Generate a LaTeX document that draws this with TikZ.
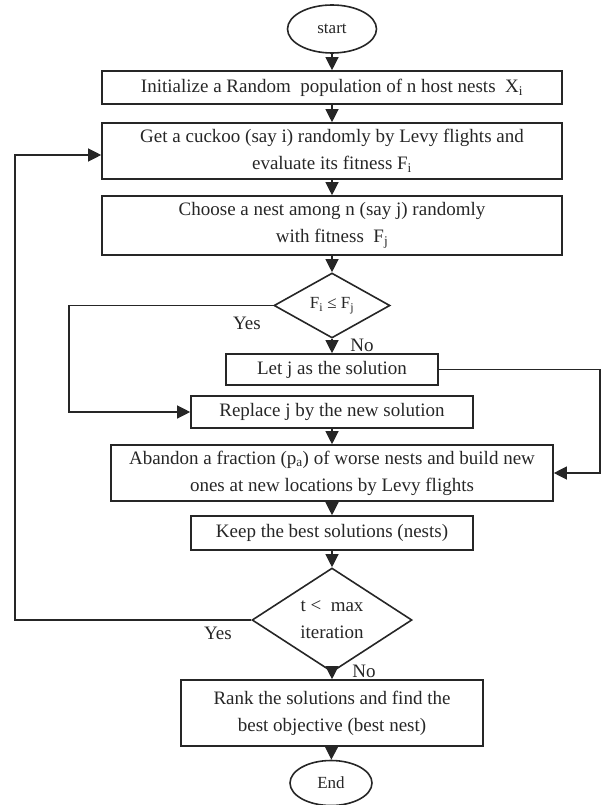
\documentclass[tikz,border=0pt]{standalone}
\usepackage{fontspec}
\setmainfont{Liberation Serif}
\usetikzlibrary{shapes.geometric,arrows.meta}

\begin{document}
\begin{tikzpicture}[x=1pt, y=-1pt, line width=1.2pt, draw=black!85,
		every node/.style={font=\fontsize{19}{27}\selectfont, text=black!85},
		box/.style={draw, rectangle, line width=1.6pt, align=center, inner sep=2pt},
		decision/.style={draw, diamond, line width=1.6pt, align=center, inner sep=0pt},
		terminal/.style={draw, ellipse, line width=1.6pt, inner sep=0pt,
			font=\fontsize{17}{20}\selectfont},
		flow/.style={-{Triangle[width=13pt,length=13pt]}}]
		\useasboundingbox (0,0) rectangle (601,805);

		\node[terminal, minimum width=89pt, minimum height=48pt] (start) at (332,29) {start};
		\node[box, minimum width=460pt, minimum height=33pt] (init) at (332,87.5)
			{Initialize a Random\ \ population of n host nests\ \ X\textsubscript{i}};
		\node[box, minimum width=460pt, minimum height=56pt] (cuckoo) at (332,151)
			{Get a cuckoo (say i) randomly by Levy flights and\\evaluate its fitness F\textsubscript{i}};
		\node[box, minimum width=460pt, minimum height=59pt] (choose) at (332,225.5)
			{Choose a nest among n (say j) randomly\\with fitness\ \ F\textsubscript{j}};
		\node[decision, aspect=2, minimum width=116pt, minimum height=65pt,
			font=\fontsize{17}{20}\selectfont] (fit) at (332,305.5)
			{F\textsubscript{i} ≤\ F\textsubscript{j}};
		\node[box, minimum width=212pt, minimum height=31pt] (letj) at (332,369.5)
			{Let j as the solution};
		\node[box, minimum width=282pt, minimum height=32pt] (replace) at (332,412)
			{Replace j by the new solution};
		\node[box, minimum width=442pt, minimum height=56pt] (abandon) at (332,473)
			{Abandon a fraction (p\textsubscript{a}) of worse nests and build new\\ones at new locations by Levy flights};
		\node[box, minimum width=282pt, minimum height=34pt] (keep) at (332,533)
			{Keep the best solutions (nests)};
		\node[decision, aspect=1.5, minimum width=160pt, minimum height=104pt] (iter) at (332,620)
			{t <\ \ max\\iteration};
		\node[box, minimum width=302pt, minimum height=66pt] (rank) at (332,713)
			{Rank the solutions and find the\\best objective (best nest)};
		\node[terminal, minimum width=82pt, minimum height=45pt] (end) at (331,783) {End};

		\node (yes1) at (247,323) {Yes};
		\node[anchor=base] (no1) at (362,351) {No};
		\node (yes2) at (218,633) {Yes};
		\node[anchor=base] (no2) at (364,677) {No};

		\coordinate (loopL) at (15,155);
		\coordinate (yesL) at (69,412);
		\coordinate (noR) at (600,473);

		\draw[flow] (start) -- (init);
		\draw[flow] (init) -- (cuckoo);
		\draw[flow] (cuckoo) -- (choose);
		\draw[flow] (choose) -- (fit);
		\draw[flow] (fit) -- (letj);
		\draw[flow] (replace) -- (abandon);
		\draw[flow] (abandon) -- (keep);
		\draw[flow] (keep) -- (iter);
		\draw[flow] (iter) -- (rank);
		\draw[flow] (rank) -- (end);

		\draw[flow] (fit.west) -| (yesL) -- (replace.west);
		\draw[flow] (letj.east) -| (noR) -- (abandon.east);
		\draw[flow] (iter.west) -| (loopL) -- (cuckoo.west |- loopL);
	\end{tikzpicture}
\end{document}
